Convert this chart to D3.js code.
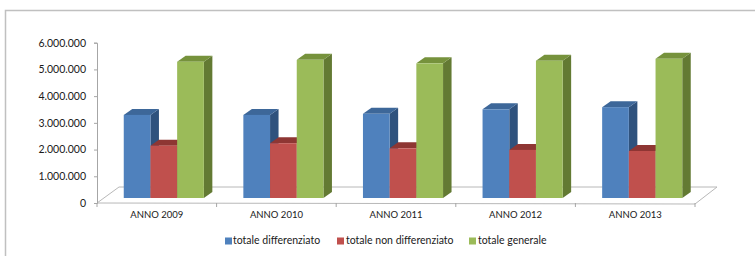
<!DOCTYPE html>
<html>
<head>
<meta charset="utf-8">
<script src="https://cdn.jsdelivr.net/npm/d3@7"></script>
<style>
  body { margin: 0; background: #fff; }
  svg { display: block; font-family: Lato, "Open Sans", sans-serif; }
</style>
</head>
<body>
<div id="chart"></div>
<script>
// data
var years = ['ANNO 2009', 'ANNO 2010', 'ANNO 2011', 'ANNO 2012', 'ANNO 2013'];
var seriesNames = ['totale differenziato', 'totale non differenziato', 'totale generale'];
var differenziato = [3110000, 3110000, 3150000, 3320000, 3400000];
var nonDifferenziato = [1960000, 2050000, 1860000, 1800000, 1760000];
var generale = [5100000, 5170000, 5040000, 5140000, 5210000];
var yTicks = [0, 1000000, 2000000, 3000000, 4000000, 5000000, 6000000];

var colors = [
    { front: '#4f81bd', top: '#3d6799', side: '#2f527d' },
    { front: '#c0504d', top: '#8e3633', side: '#7d2f2d' },
    { front: '#9bbb59', top: '#76923c', side: '#637a33' }
];

var svgWidth = 755;
var svgHeight = 256;

var svg = d3.select('#chart')
    .append('svg')
    .attr('width', svgWidth)
    .attr('height', svgHeight);

// outer frame (bigger than the picture on right/bottom)
svg.append('path')
    .attr('d', 'M5.5,262 L5.5,10.5 L762,10.5')
    .attr('fill', 'none')
    .attr('stroke', '#c0c0c0')
    .attr('stroke-width', 1.5);

// plot geometry
var left = 97, right = 695;
var floorDx = 22, floorDy = -16;   // depth of the floor
var planeDx = 7, planeDy = -5;     // bars stand in this plane
var barDx = 8.5, barDy = -6;       // depth of each bar

var x = d3.scaleBand()
    .domain(years)
    .range([left, right]);

var xSub = d3.scaleBand()
    .domain(seriesNames)
    .range([0, x.bandwidth()])
    .paddingOuter(0.74);

var y = d3.scaleLinear()
    .domain([0, 6000000])
    .range([203, 42.7]);

var it = d3.formatLocale({ decimal: ',', thousands: '.', grouping: [3], currency: ['€', ''] });
var fmt = it.format(',d');

// floor
var y0 = y(0);
svg.append('path')
    .attr('d', `M${left},${y0} L${right},${y0 + 1} L${right + floorDx},${y0 + floorDy} L${left + floorDx},${y0 + floorDy} Z`)
    .attr('fill', 'none')
    .attr('stroke', '#b8b8b8')
    .attr('stroke-width', 1);

// y axis
var yAxis = svg.append('g')
    .attr('transform', `translate(${left},0)`)
    .call(d3.axisLeft(y).tickValues(yTicks).tickFormat(fmt).tickSize(3).tickPadding(8));
yAxis.select('.domain').attr('stroke', '#a6a6a6');
yAxis.selectAll('.tick line').attr('stroke', '#a6a6a6');
yAxis.selectAll('text')
    .attr('font-size', '10.5px')
    .attr('font-family', 'Lato, sans-serif')
    .attr('fill', '#1a1a1a');

// x axis: labels at the centre, tick marks on the category boundaries
var xAxis = svg.append('g')
    .attr('transform', `translate(0,${y0})`)
    .call(d3.axisBottom(x).tickSize(0).tickPadding(8));
xAxis.select('.domain').remove();
xAxis.selectAll('text')
    .attr('font-size', '9.5px')
    .attr('font-family', 'Lato, sans-serif')
    .attr('fill', '#1a1a1a');

var bounds = years.map(d => x(d)).concat([right]);
svg.append('g')
    .selectAll('line')
    .data(bounds)
    .enter()
    .append('line')
    .attr('x1', d => d)
    .attr('x2', d => d)
    .attr('y1', y0)
    .attr('y2', y0 + 4)
    .attr('stroke', '#a6a6a6');

// bars
var values = [differenziato, nonDifferenziato, generale];
var barData = [];
years.forEach(function(yr, i) {
    seriesNames.forEach(function(s, j) {
        barData.push({ year: yr, series: s, k: j, value: values[j][i] });
    });
});

var bars = svg.append('g')
    .selectAll('g')
    .data(barData)
    .enter()
    .append('g');

function geom(d) {
    var x0 = x(d.year) + xSub(d.series) + planeDx;
    var x1 = x0 + xSub.bandwidth();
    var yb = y(0) + planeDy;
    var yt = y(d.value) + planeDy;
    return { x0: x0, x1: x1, yb: yb, yt: yt };
}

bars.append('path')
    .attr('d', function(d) {
        var g = geom(d);
        return `M${g.x1},${g.yb} L${g.x1 + barDx},${g.yb + barDy} L${g.x1 + barDx},${g.yt + barDy} L${g.x1},${g.yt} Z`;
    })
    .attr('fill', d => colors[d.k].side);

bars.append('path')
    .attr('d', function(d) {
        var g = geom(d);
        return `M${g.x0},${g.yt} L${g.x0 + barDx},${g.yt + barDy} L${g.x1 + barDx},${g.yt + barDy} L${g.x1},${g.yt} Z`;
    })
    .attr('fill', d => colors[d.k].top);

bars.append('rect')
    .attr('x', d => geom(d).x0)
    .attr('y', d => geom(d).yt)
    .attr('width', xSub.bandwidth())
    .attr('height', d => geom(d).yb - geom(d).yt)
    .attr('fill', d => colors[d.k].front);

// legend
var legendX = [225, 337, 469];
var legend = svg.append('g')
    .selectAll('g')
    .data(seriesNames)
    .enter()
    .append('g')
    .attr('transform', (d, i) => `translate(${legendX[i]},241)`);

legend.append('rect')
    .attr('x', 0)
    .attr('y', -3.5)
    .attr('width', 7)
    .attr('height', 7)
    .attr('fill', (d, i) => colors[i].front);

legend.append('text')
    .attr('x', (d, i) => i === 0 ? 8 : 9)
    .attr('y', 0)
    .attr('dominant-baseline', 'middle')
    .attr('font-size', '10.5px')
    .attr('fill', '#1a1a1a')
    .text(d => d);
</script>
</body>
</html>
